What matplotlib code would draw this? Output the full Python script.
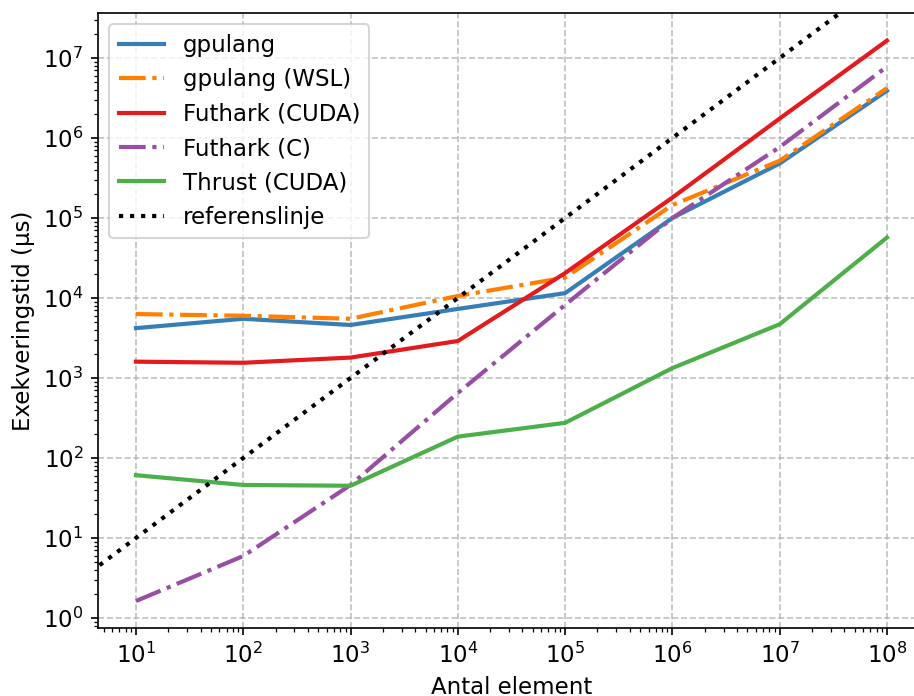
import numpy as np
import matplotlib
matplotlib.use("Agg")
import matplotlib.pyplot as plt

# antal element
n = [1e1, 1e2, 1e3, 1e4, 1e5, 1e6, 1e7, 1e8]

# exekveringstid (µs), avläst
gpulang = [4200, 5500, 4600, 7300, 11500, 1.0e5, 4.8e5, 3.9e6]
gpulang_wsl = [6300, 6000, 5500, 10600, 1.8e4, 1.45e5, 5.2e5, 4.2e6]
futhark_cuda = [1600, 1550, 1800, 2900, 2.05e4, 1.8e5, 1.75e6, 1.65e7]
futhark_c = [1.63, 5.95, 46, 650, 8200, 1.0e5, 7.7e5, 7.8e6]
thrust_cuda = [61, 46, 45, 185, 275, 1330, 4700, 5.7e4]

ref_x = [1e0, 1e9]

c_blue = '#377eb8'
c_orange = '#ff7f00'
c_red = '#e41a1c'
c_purple = '#984ea3'
c_green = '#4daf4a'

fig = plt.figure(figsize=(914 / 150, 696 / 150), dpi=150)
ax = fig.add_axes([98 / 914, 1 - 628 / 696, (924.5 - 98) / 914, (628 - 13) / 696])

lw = 2
ax.plot(n, gpulang, color=c_blue, lw=lw, label='gpulang')
ax.plot(n, gpulang_wsl, color=c_orange, lw=lw, ls='-.', label='gpulang (WSL)')
ax.plot(n, futhark_cuda, color=c_red, lw=lw, label='Futhark (CUDA)')
ax.plot(n, futhark_c, color=c_purple, lw=lw, ls='-.', label='Futhark (C)')
ax.plot(n, thrust_cuda, color=c_green, lw=lw, label='Thrust (CUDA)')
ax.plot(ref_x, ref_x, color='black', lw=lw, ls=':', label='referenslinje')

ax.set_xscale('log')
ax.set_yscale('log')
ax.set_xlim(10 ** 0.646, 10 ** 8.35)
ax.set_ylim(10 ** -0.125, 10 ** 7.5625)
ax.set_xticks([1e1, 1e2, 1e3, 1e4, 1e5, 1e6, 1e7, 1e8])
ax.set_yticks([1e0, 1e1, 1e2, 1e3, 1e4, 1e5, 1e6, 1e7])

ax.grid(True, which='major', ls='--', color='#b0b0b0', alpha=0.8)
ax.set_xlabel('Antal element', fontsize=11)
ax.set_ylabel('Exekveringstid (µs)', fontsize=11)
ax.tick_params(labelsize=11)
ax.legend(loc='upper left', fontsize=11)

fig.savefig('out.png', dpi=150)
